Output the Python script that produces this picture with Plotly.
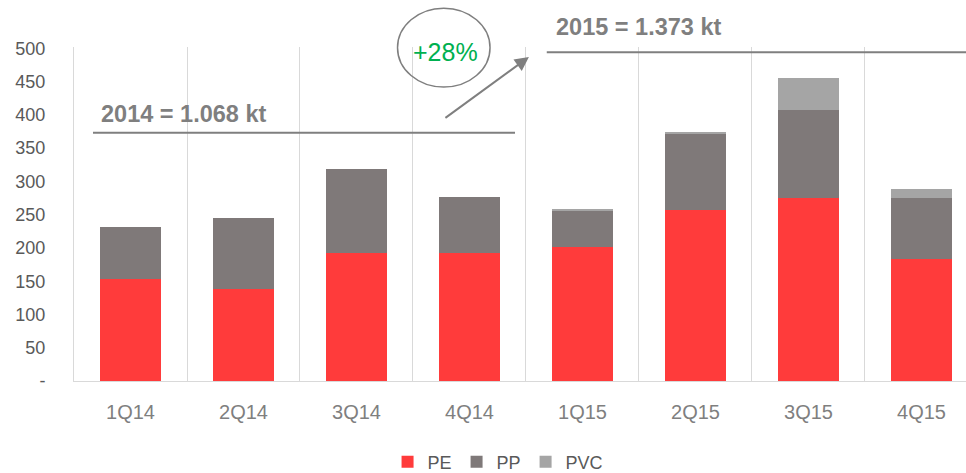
import plotly.graph_objects as go

categories = ["1Q14", "2Q14", "3Q14", "4Q14", "1Q15", "2Q15", "3Q15", "4Q15"]
pe = [153, 138, 193, 193, 202, 257, 275, 184]
pp = [78, 107, 126, 83, 54, 114, 132, 91]
pvc = [0, 0, 0, 0, 3, 3, 48, 14]
y_tickvals = [0, 50, 100, 150, 200, 250, 300, 350, 400, 450, 500]
y_ticktext = ["-", "50", "100", "150", "200", "250", "300", "350", "400", "450", "500"]
label_2014 = "2014 = 1.068 kt"
label_2015 = "2015 = 1.373 kt"
label_growth = "+28%"

FONT = "Liberation Sans"
GRAY = "#7F7F7F"

fig = go.Figure()
for name, vals, color in [("PE", pe, "#FF3B3B"), ("PP", pp, "#7F7979"), ("PVC", pvc, "#A5A5A5")]:
    fig.add_trace(go.Bar(x=categories, y=vals, name=name, width=0.54,
                         marker=dict(color=color, line=dict(width=0))))

fig.update_layout(
    barmode="stack",
    width=966, height=473,
    margin=dict(l=74, r=0, t=47, b=92, autoexpand=False),
    plot_bgcolor="white", paper_bgcolor="white",
    font=dict(family=FONT, color="#595959"),
    showlegend=True,
    legend=dict(orientation="h", x=0.4754, xanchor="center", y=-0.243, yanchor="middle",
                font=dict(size=18, color="#595959"), traceorder="normal"),
)
fig.update_xaxes(range=[-0.5, 7.394], tickson="boundaries", showgrid=True,
                 gridcolor="#D9D9D9", gridwidth=1, showline=True, linecolor="#D9D9D9",
                 ticks="", tickfont=dict(size=20, color=GRAY, family=FONT),
                 ticklabelstandoff=13, zeroline=False, automargin=False)
fig.update_yaxes(range=[0, 502], showgrid=False, zeroline=False, showline=True,
                 linecolor="#D9D9D9", tickvals=y_tickvals, ticktext=y_ticktext,
                 ticks="", tickfont=dict(size=18, color="#595959", family=FONT),
                 ticklabelstandoff=24, automargin=False)

# reference lines for yearly totals
fig.add_shape(type="line", xref="paper", yref="paper", x0=0.0213, x1=0.4944, y0=0.7434, y1=0.7434,
              line=dict(color=GRAY, width=2))
fig.add_shape(type="line", xref="paper", yref="paper", x0=0.530, x1=1.0, y0=0.984, y1=0.984,
              line=dict(color=GRAY, width=2))
# ellipse around growth
fig.add_shape(type="circle", xref="paper", yref="paper", x0=0.3627, x1=0.4664, y0=0.880, y1=1.116,
              line=dict(color=GRAY, width=1.5), fillcolor="rgba(0,0,0,0)")

fig.add_annotation(xref="paper", yref="paper", x=0.0285, y=0.799, xanchor="left", yanchor="middle",
                   text=label_2014, showarrow=False,
                   font=dict(size=23.5, color=GRAY, family=FONT, weight="bold"))
fig.add_annotation(xref="paper", yref="paper", x=0.538, y=1.061, xanchor="left", yanchor="middle",
                   text=label_2015, showarrow=False,
                   font=dict(size=23.5, color=GRAY, family=FONT, weight="bold"))
fig.add_annotation(xref="paper", yref="paper", x=0.4168, y=0.986, xanchor="center", yanchor="middle",
                   text=label_growth, showarrow=False,
                   font=dict(size=25, color="#00B050", family=FONT))
# arrow
fig.add_annotation(xref="paper", yref="paper", x=0.510, y=0.970, ax=-85, ay=62,
                   text="", showarrow=True, arrowhead=2, arrowsize=1.4, arrowwidth=2,
                   arrowcolor=GRAY)

fig.write_html("out.html", config={"displayModeBar": False},
               post_script="document.body.style.margin='0';document.body.style.padding='0';document.body.style.overflow='hidden';")
